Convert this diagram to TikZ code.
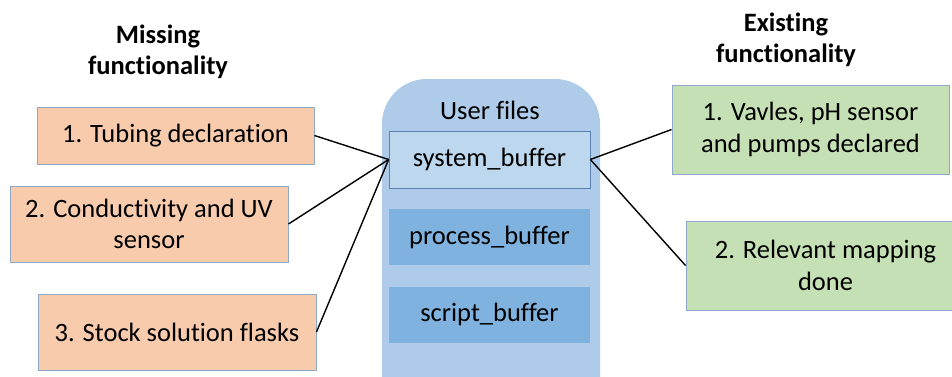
\documentclass[tikz,border=0pt]{standalone}
\usepackage{fontspec}
\setmainfont[Ligatures={NoCommon}]{Carlito}
\begin{document}
\begin{tikzpicture}[x=1pt,y=-1pt,
  every node/.style={font=\fontsize{26.5}{31.5}\selectfont, align=center, inner sep=0pt},
  missbox/.style={draw=bordercol, line width=0.9pt, fill=orangefill, rectangle},
  exbox/.style={draw=bordercol, line width=0.9pt, fill=greenfill, rectangle},
  sysbox/.style={draw=sysborder, line width=0.7pt, fill=sysfill, rectangle, minimum width=201pt, minimum height=57pt},
  bufbox/.style={fill=buffill, rectangle, minimum width=201pt, minimum height=56pt},
  title/.style={font=\fontsize{26.5}{31.5}\selectfont\bfseries},
  link/.style={draw=black, line width=1.4pt}]
\definecolor{orangefill}{HTML}{F8CBAD}
\definecolor{greenfill}{HTML}{C5E0B4}
\definecolor{bordercol}{HTML}{8EA9C8}
\definecolor{contfill}{HTML}{AECBE9}
\definecolor{sysfill}{HTML}{BDD7EE}
\definecolor{sysborder}{HTML}{5B80B0}
\definecolor{buffill}{HTML}{80B2DF}
\useasboundingbox (0,0) rectangle (952,376);
\clip (0,0) rectangle (952,376);
\fill[white] (0,0) rectangle (952,376);
% container
\node[fill=contfill, rectangle, rounded corners=45pt, minimum width=218pt, minimum height=360pt] (uf) at (491,259) {};
\node (uftitle) at (490,110) {User files};
\node[sysbox] (sys) at (489.5,159.5) {system\_buffer};
\node[bufbox] (proc) at (489.5,237) {process\_buffer};
\node[bufbox] (scr) at (489.5,314.5) {script\_buffer};
% titles
\node[title] (mt) at (158,52) {Missing\\functionality};
\node[title] (et) at (786,40) {Existing\\functionality};
% missing boxes
\node[missbox, minimum width=277pt, minimum height=57pt] (m1) at (175.5,135.5) {1. Tubing declaration};
\node[missbox, minimum width=278pt, minimum height=76pt] (m2) at (149,224) {2. Conductivity and UV\\sensor};
\node[missbox, minimum width=278pt, minimum height=76pt] (m3) at (177,332) {3. Stock solution flasks};
% existing boxes
\node[exbox, minimum width=277pt, minimum height=89pt] (e1) at (810.5,129.5) {1. Vavles, pH sensor\\and pumps declared};
\node[exbox, minimum width=279pt, minimum height=89pt] (e2) at (825.5,265.5) {2. Relevant mapping\\done};
% links
\draw[link] (m1.east) -- (sys.west);
\draw[link] (m2.east) -- (sys.west);
\draw[link] (m3.east) -- (sys.west);
\draw[link] (sys.east) -- (e1.west);
\draw[link] (sys.east) -- (e2.west);
\end{tikzpicture}
\end{document}
